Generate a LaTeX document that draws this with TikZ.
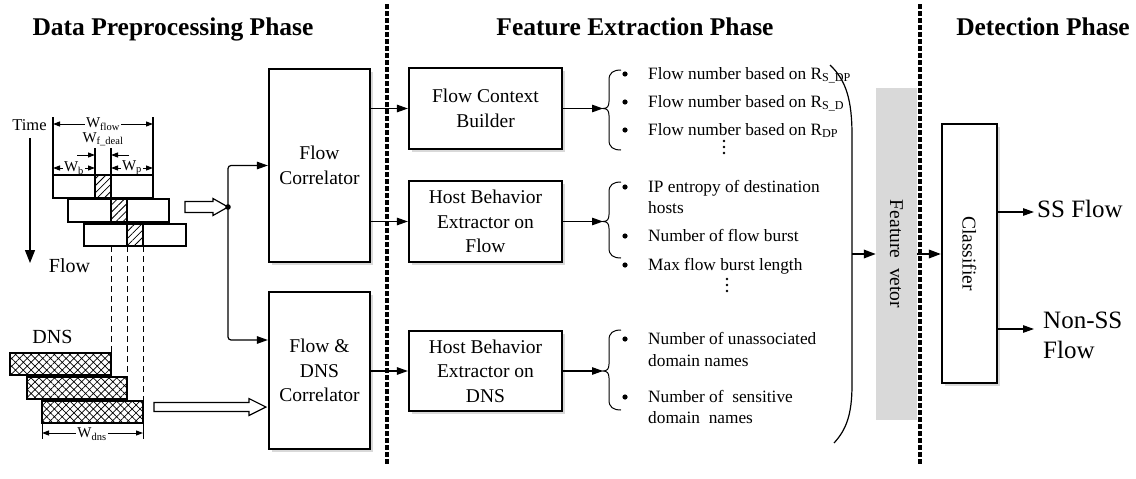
\documentclass[tikz,border=0pt]{standalone}
\usepackage{fontspec}
\setmainfont{Liberation Serif}
\usetikzlibrary{arrows.meta,shadows,patterns.meta,calc}

\newcommand\fHead{\fontsize{25.5}{30}\selectfont\bfseries}
\newcommand\fBox{\fontsize{19.5}{24.5}\selectfont}
\newcommand\fItem{\fontsize{17.3}{20.5}\selectfont}
\newcommand\fBig{\fontsize{25}{30}\selectfont}
\newcommand\fLab{\fontsize{20}{24}\selectfont}
\newcommand\fDim{\fontsize{15}{18}\selectfont}

% curly bracket opening to the right: top y, tip y, bottom y
\newcommand\featbrace[3]{%
  \draw[line width=1pt] (621,#1) .. controls (613,#1) and (609,#1+3) .. (609,#1+10)
    -- (609,#2-7) .. controls (609,#2-2) and (607,#2) .. (603,#2)
    .. controls (607,#2) and (609,#2+2) .. (609,#2+7)
    -- (609,#3-10) .. controls (609,#3-3) and (613,#3) .. (621,#3);}

\begin{document}
\begin{tikzpicture}[x=1pt,y=-1pt,
  stagebox/.style={draw,line width=2.2pt,fill=white,align=center,font=\fBox,inner sep=0pt,
    drop shadow={shadow xshift=2.5pt,shadow yshift=-2.5pt,opacity=0.3}},
  head/.style={font=\fHead,anchor=base,inner sep=0pt},
  feat/.style={font=\fItem,anchor=base west,inner sep=0pt},
  arr/.style={line width=1.2pt,-{Triangle[length=11pt,width=7.5pt]}},
  barr/.style={line width=1.8pt,-{Triangle[length=12pt,width=8.5pt]}},
  dimarr/.style={line width=1pt,{Triangle[length=7pt,width=5pt]}-{Triangle[length=7pt,width=5pt]}},
  tiparr/.style={line width=1pt,-{Triangle[length=7pt,width=5pt]}},
  phaseline/.style={line width=3.2pt,dash pattern=on 4.5pt off 2.5pt},
  win/.style={draw,line width=1.2pt,fill=white},
  hatchcell/.style={draw,line width=1.2pt,pattern={Lines[angle=45,distance=5pt,line width=0.8pt]}},
  dnswin/.style={draw,line width=1.2pt,pattern={Hatch[angle=45,distance=5.5pt,line width=0.7pt]}},
  hollow/.style={draw,line width=1.2pt,fill=white,line join=miter},
  wlab/.style={font=\fDim,inner sep=1pt,fill=white}
]
\useasboundingbox (0,0) rectangle (1136,479);

% ---------- phase headers ----------
\node[head] (h1) at (173,35) {Data Preprocessing Phase};
\node[head] (h2) at (635,35) {Feature Extraction Phase};
\node[head] (h3) at (1043,35) {Detection Phase};

% ---------- flow windows ----------
\node[font=\fontsize{16.5}{19}\selectfont,inner sep=0pt] (time) at (29.5,125) {Time};
\draw[line width=1.2pt,-{Triangle[length=13pt,width=10pt]}] (30,138) -- (30,263);
\node[font=\fLab,inner sep=0pt] (flowlab) at (69.5,266) {Flow};

\draw[line width=1.2pt] (53,117) -- (53,175) (153,117) -- (153,175);
\draw[line width=1.2pt] (95,148) -- (95,175) (111,148) -- (111,175);
\draw[dimarr] (53,124) -- (153,124);
\node[wlab] (wflow) at (103,124) {W\textsubscript{flow}};
\node[font=\fDim,inner sep=0pt] (wfd) at (103,139) {W\textsubscript{f\_deal}};
\draw[tiparr] (77,155) -- (95,155);
\draw[tiparr] (129,155) -- (111,155);
\draw[dimarr] (53,168) -- (95,168);
\node[wlab] (wb) at (74,168) {W\textsubscript{b}};
\draw[dimarr] (111,168) -- (153,168);
\node[wlab] (wp) at (132,168) {W\textsubscript{p}};

\draw[win] (53,175) rectangle (153,198);
\draw[hatchcell] (95,175) rectangle (111,198);
\draw[win] (68,199) rectangle (169,222);
\draw[hatchcell] (111,199) rectangle (127,222);
\draw[win] (84,224) rectangle (186,246);
\draw[hatchcell] (127,224) rectangle (143,246);

\draw[line width=1pt,dash pattern=on 6pt off 4pt] (111,246) -- (111,353);
\draw[line width=1pt,dash pattern=on 6pt off 4pt] (127,246) -- (127,377);
\draw[line width=1pt,dash pattern=on 6pt off 4pt] (143,246) -- (143,401);

% ---------- DNS windows ----------
\node[font=\fLab,inner sep=0pt] (dnslab) at (52.5,337) {DNS};
\draw[dnswin] (10,353) rectangle (111,375);
\draw[dnswin] (27,377) rectangle (127,399);
\draw[dnswin] (42,401) rectangle (143,423);
\draw[line width=1pt] (42,423) -- (42,439) (143,423) -- (143,439);
\draw[dimarr] (42,433) -- (143,433);
\node[wlab] (wdns) at (92,434) {W\textsubscript{dns}};

% ---------- correlators ----------
\node[stagebox,minimum width=101pt,minimum height=193pt] (fc) at (319.5,165.5) {Flow\\Correlator};
\node[stagebox,minimum width=101pt,minimum height=157pt] (fdc) at (319.5,370.5) {Flow \&\\DNS\\Correlator};

\coordinate (jn) at (228,207);
\draw[hollow] (jn) ++(-43,-5.5) -- ++(28,0) -- ++(0,-3) -- (jn) -- ++(-15,8.5) -- ++(0,-3) -- ++(-28,0) -- cycle;
\draw[arr,rounded corners=3pt] (jn) |- (fc.west);
\draw[arr,rounded corners=3pt] (jn) |- ([yshift=30.5pt]fdc.west);
\fill (jn) circle (2.8pt);

\coordinate (dnstip) at ([xshift=-2pt,yshift=-36.5pt]fdc.west);
\draw[hollow] (dnstip) ++(-112,-4.5) -- ++(95,0) -- ++(0,-4) -- (dnstip) -- ++(-17,8.5) -- ++(0,-4) -- ++(-95,0) -- cycle;

% ---------- feature extractors ----------
\node[stagebox,minimum width=153pt,minimum height=81pt] (fcb) at (485.5,108.5) {Flow Context\\Builder};
\node[stagebox,minimum width=153pt,minimum height=81pt] (hbf) at (485.5,221.5) {Host Behavior\\Extractor on\\Flow};
\node[stagebox,minimum width=153pt,minimum height=80pt] (hbd) at (485.5,371) {Host Behavior\\Extractor on\\DNS};

\draw[arr] (fc.east |- fcb.west) -- (fcb.west);
\draw[arr] (fc.east |- hbf.west) -- (hbf.west);
\draw[arr] (fdc.east |- hbd.west) -- (hbd.west);

% ---------- feature lists ----------
\coordinate (t1) at (603,108.5);
\coordinate (t2) at (603,221.5);
\coordinate (t3) at (603,371);
\featbrace{70}{108.5}{150}
\featbrace{182}{221.5}{258}
\featbrace{330}{371}{410}
\draw[arr] (fcb.east) -- (t1);
\draw[arr] (hbf.east) -- (t2);
\draw[arr] (hbd.east) -- (t3);

\node[feat] (a1) at (648,79) {Flow number based on R\textsubscript{S\_DP}};
\node[feat] (a2) at (648,107) {Flow number based on R\textsubscript{S\_D}};
\node[feat] (a3) at (648,135) {Flow number based on R\textsubscript{DP}};
\foreach \y in {74,102,130} \fill (625,\y) circle (2.6pt);
\foreach \y in {141,147,153} \fill (724,\y) circle (1.4pt);

\node[feat] (b1) at (648,192) {IP entropy of destination};
\node[feat] (b1b) at (648,213) {hosts};
\node[feat] (b2) at (648,241) {Number of flow burst};
\node[feat] (b3) at (648,270) {Max flow burst length};
\foreach \y in {187,236,265} \fill (625,\y) circle (2.6pt);
\foreach \y in {279,285,291} \fill (727,\y) circle (1.4pt);

\node[feat] (c1) at (648,344) {Number of unassociated};
\node[feat] (c1b) at (648,366) {domain names};
\node[feat] (c2) at (648,402) {Number of~ sensitive};
\node[feat] (c2b) at (648,423) {domain~ names};
\foreach \y in {339,397} \fill (625,\y) circle (2.6pt);

% large closing bracket gathering all features
\draw[line width=1.2pt] (830,65) .. controls (846,80) and (852,100) .. (852,135)
  -- (852,385) .. controls (852,415) and (846,430) .. (834,443);
\coordinate (pm) at (852,254);

% ---------- detection ----------
\node[fill=black!15,rotate=-90,minimum width=332pt,minimum height=41pt,inner sep=0pt,font=\fBox] (fv) at (896.5,254) {Feature~~vetor};
\draw[barr] (pm) -- (fv.south);

\node[stagebox,minimum width=55pt,minimum height=259pt] (cls) at (969.5,253.5) {};
\node[rotate=-90,font=\fBox,inner sep=0pt] (clslab) at (cls.center) {Classifier};
\draw[barr] (fv.north) -- (cls.west |- fv.north);

\node[font=\fBig,anchor=base west,inner sep=0pt] (ss) at (1037,217) {SS Flow};
\coordinate (ssin) at (1034,212);
\draw[arr] (cls.east |- ssin) -- (ssin);
\node[font=\fBig,anchor=north west,align=left,inner sep=0pt] (nss) at (1043,311.5) {Non-SS\\Flow};
\coordinate (nssin) at (1034,329);
\draw[arr] (cls.east |- nssin) -- (nssin);

% ---------- phase separators ----------
\coordinate (s1a) at (387,4);  \coordinate (s1b) at (387,466);
\coordinate (s2a) at (920,4);  \coordinate (s2b) at (920,466);
\draw[phaseline] (s1a) -- (s1b);
\draw[phaseline] (s2a) -- (s2b);
\end{tikzpicture}
\end{document}
